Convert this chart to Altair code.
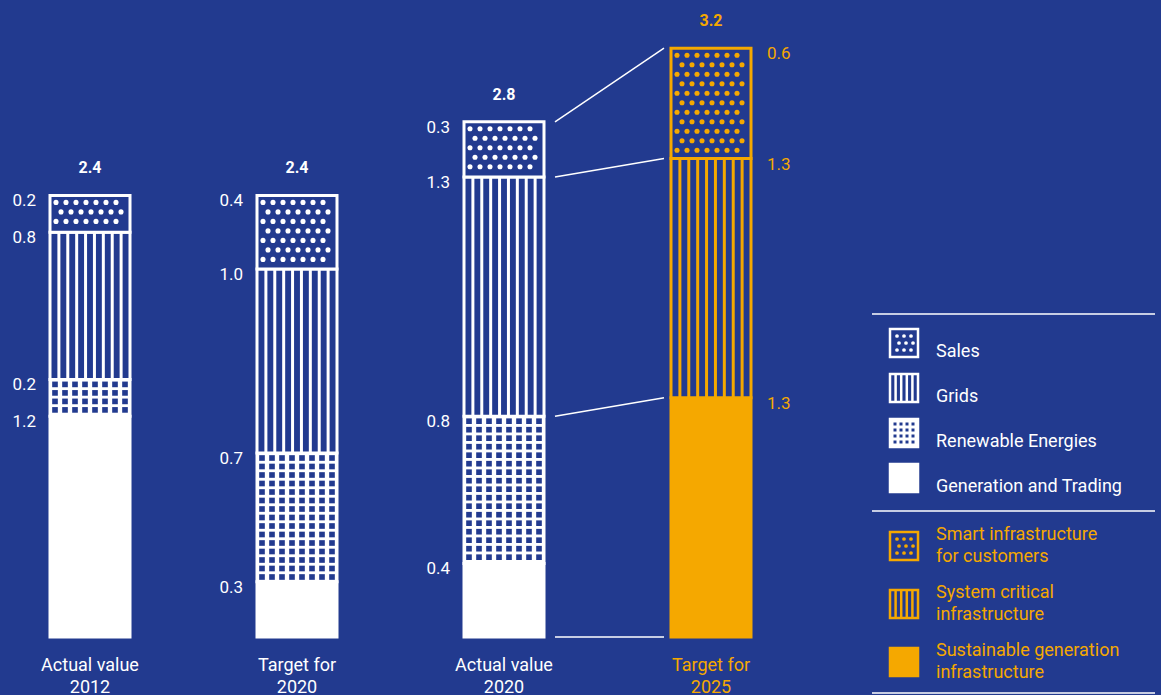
import altair as alt
import pandas as pd
import numpy as np

# ---------------- data ----------------
bar_labels = ["Actual value\n2012", "Target for\n2020", "Actual value\n2020", "Target for\n2025"]
bar_groups = ["white", "white", "white", "orange"]
totals = [2.4, 2.4, 2.8, 3.2]

# white bars (2012 actual, 2020 target, 2020 actual), bottom to top
generation_trading = [1.2, 0.3, 0.4]
renewable_energies = [0.2, 0.7, 0.8]
grids = [0.8, 1.0, 1.3]
sales = [0.2, 0.4, 0.3]

# orange bar (2025 target), bottom to top
sustainable_generation = [1.3]
system_critical = [1.3]
smart_infrastructure = [0.6]

legend_labels = ["Sales", "Grids", "Renewable Energies", "Generation and Trading",
                 "Smart infrastructure\nfor customers", "System critical\ninfrastructure",
                 "Sustainable generation\ninfrastructure"]
legend_kinds = ["dots", "stripes", "mesh", "solid", "dots", "stripes", "solid"]
legend_groups = ["white"] * 4 + ["orange"] * 3

# ---------------- style / layout ----------------
BG = "#223a8f"
WHITE = "#ffffff"
ORANGE = "#f5a800"
FONT = "Roboto"
TW = 400
MAIN_W, LEG_W, H = 860, 301, 695
PX_PER_UNIT = 184.0
BAR_STEP = 207.0
FIRST_CENTER = 90.0
BASE_PX = 637.0
HALF = 40.0
ux = 1.0 / BAR_STEP
uy = 1.0 / PX_PER_UNIT

X0 = -FIRST_CENTER / BAR_STEP
X1 = (MAIN_W - FIRST_CENTER) / BAR_STEP
Y0 = -(H - BASE_PX) / PX_PER_UNIT
Y1 = BASE_PX / PX_PER_UNIT

white_series = [("Generation and Trading", "solid", generation_trading),
                ("Renewable Energies", "mesh", renewable_energies),
                ("Grids", "stripes", grids),
                ("Sales", "dots", sales)]
orange_series = [("Sustainable generation infrastructure", "solid", sustainable_generation),
                 ("System critical infrastructure", "stripes", system_critical),
                 ("Smart infrastructure for customers", "dots", smart_infrastructure)]

seg_rows = []
for bi in range(4):
    grp = bar_groups[bi]
    series = orange_series if grp == "orange" else white_series
    idx = 0 if grp == "orange" else bi
    cum = 0.0
    for name, kind, vals in series:
        v = vals[idx]
        seg_rows.append(dict(bar=bi, name=name, kind=kind, group=grp,
                             start=round(cum, 3), end=round(cum + v, 3), value=v,
                             x=bi - HALF * ux, x2=bi + HALF * ux,
                             fillkey=("bg" if kind in ("dots", "stripes") else grp)))
        cum += v
segs = pd.DataFrame(seg_rows)

# pattern helpers derived from segments
stripe_rows, dot_rows, mesh_rows = [], [], []
for r in seg_rows:
    if r["kind"] == "stripes":
        n = 8
        for k in range(1, n + 1):
            off = -HALF + k * (2 * HALF / (n + 1))
            stripe_rows.append(dict(group=r["group"], x=r["bar"] + off * ux, y=r["start"], y2=r["end"]))
    elif r["kind"] == "dots":
        yy = r["end"] - 7 * uy
        row = 0
        while yy > r["start"] + 4 * uy:
            shift = 0 if row % 2 == 0 else 5
            for c in range(8):
                off = -34 + shift + c * 10
                if off <= 34:
                    dot_rows.append(dict(group=r["group"], x=r["bar"] + off * ux, y=yy))
            yy -= 9.5 * uy
            row += 1
    elif r["kind"] == "mesh":
        yy = r["end"] - 5 * uy
        while yy > r["start"] + 3 * uy:
            for c in range(8):
                off = -35 + c * 10
                mesh_rows.append(dict(x=r["bar"] + off * ux, y=yy))
            yy -= 8.5 * uy
stripes_df = pd.DataFrame(stripe_rows)
dots_df = pd.DataFrame(dot_rows)
mesh_df = pd.DataFrame(mesh_rows)

# value labels
lab_rows = []
for r in seg_rows:
    if r["group"] == "orange":
        lab_rows.append(dict(group="orange", side="right", x=r["bar"] + (HALF + 16) * ux, y=r["end"], text=f"{r['value']:.1f}"))
    else:
        lab_rows.append(dict(group="white", side="left", x=r["bar"] - (HALF + 14) * ux, y=r["end"], text=f"{r['value']:.1f}"))
labs = pd.DataFrame(lab_rows)

tot_df = pd.DataFrame(dict(bar=list(range(4)), total=totals, group=bar_groups,
                           text=[f"{t:.1f}" for t in totals], label=bar_labels))

# connectors between the 2020 actual bar and the 2025 target bar
b3 = [r for r in seg_rows if r["bar"] == 2]
b4 = [r for r in seg_rows if r["bar"] == 3]
left_vals = [b3[-1]["end"], b3[-1]["start"], b3[-2]["start"], 0.0]
right_vals = [b4[-1]["end"], b4[-1]["start"], b4[-2]["start"], 0.0]
conn = pd.DataFrame(dict(x=[2 + (HALF + 11) * ux] * 4, x2=[3 - (HALF + 7) * ux] * 4,
                         y=left_vals, y2=right_vals))

xsc = alt.Scale(domain=[X0, X1], nice=False, zero=False)
ysc = alt.Scale(domain=[Y0, Y1], nice=False, zero=False)
gcol = alt.Scale(domain=["white", "orange"], range=[WHITE, ORANGE])
fcol = alt.Scale(domain=["white", "orange", "bg"], range=[WHITE, ORANGE, BG])

rects = alt.Chart(segs).mark_rect(strokeWidth=3).encode(
    x=alt.X("x:Q", scale=xsc, axis=None), x2="x2:Q",
    y=alt.Y("start:Q", scale=ysc, axis=None), y2="end:Q",
    fill=alt.Fill("fillkey:N", scale=fcol, legend=None),
    stroke=alt.Stroke("group:N", scale=gcol, legend=None),
)
stripes = alt.Chart(stripes_df).mark_rule(strokeWidth=3).encode(
    x=alt.X("x:Q", scale=xsc, axis=None),
    y=alt.Y("y:Q", scale=ysc, axis=None), y2="y2:Q",
    color=alt.Color("group:N", scale=gcol, legend=None),
)
dots = alt.Chart(dots_df).mark_circle(size=26, opacity=1).encode(
    x=alt.X("x:Q", scale=xsc, axis=None),
    y=alt.Y("y:Q", scale=ysc, axis=None),
    color=alt.Color("group:N", scale=gcol, legend=None),
)
mesh = alt.Chart(mesh_df).mark_square(size=32, opacity=1, color=BG).encode(
    x=alt.X("x:Q", scale=xsc, axis=None),
    y=alt.Y("y:Q", scale=ysc, axis=None),
)
connectors = alt.Chart(conn).mark_rule(strokeWidth=1.5, color=WHITE).encode(
    x=alt.X("x:Q", scale=xsc, axis=None), x2="x2:Q",
    y=alt.Y("y:Q", scale=ysc, axis=None), y2="y2:Q",
)
lab_left = alt.Chart(labs).transform_filter("datum.side == 'left'").mark_text(
    align="right", baseline="middle", dy=6, font=FONT, fontSize=17, fontWeight=TW).encode(
    x=alt.X("x:Q", scale=xsc, axis=None), y=alt.Y("y:Q", scale=ysc, axis=None),
    text="text:N", color=alt.Color("group:N", scale=gcol, legend=None))
lab_right = alt.Chart(labs).transform_filter("datum.side == 'right'").mark_text(
    align="left", baseline="middle", dy=6, font=FONT, fontSize=17, fontWeight=TW).encode(
    x=alt.X("x:Q", scale=xsc, axis=None), y=alt.Y("y:Q", scale=ysc, axis=None),
    text="text:N", color=alt.Color("group:N", scale=gcol, legend=None))
tot_text = alt.Chart(tot_df).mark_text(
    align="center", baseline="middle", dy=-27, font=FONT, fontSize=16, fontWeight="bold").encode(
    x=alt.X("bar:Q", scale=xsc, axis=None), y=alt.Y("total:Q", scale=ysc, axis=None),
    text="text:N", color=alt.Color("group:N", scale=gcol, legend=None))
cat_text = alt.Chart(tot_df).transform_calculate(zero="0").mark_text(
    align="center", baseline="top", dy=20, lineHeight=22, lineBreak="\n", font=FONT, fontSize=18,
    fontWeight=TW).encode(
    x=alt.X("bar:Q", scale=xsc, axis=None), y=alt.Y("zero:Q", scale=ysc, axis=None),
    text="label:N", color=alt.Color("group:N", scale=gcol, legend=None))

main = alt.layer(rects, stripes, dots, mesh, connectors, lab_left, lab_right, tot_text, cat_text).properties(
    width=MAIN_W, height=H)

# ---------------- legend (custom) ----------------
ICON_X0, ICON_X1, TEXT_X = 30, 58, 76
leg_rows, leg_pat = [], []
wi = oi = 0
for lbl, kind, grp in zip(legend_labels, legend_kinds, legend_groups):
    if grp == "white":
        ty = 352 + 45 * wi
        iy = ty - 9
        wi += 1
    else:
        iy = 546 + 58 * oi
        ty = iy - 11
        oi += 1
    leg_rows.append(dict(label=lbl, kind=kind, group=grp, ty=ty, y0=iy - 14, y1=iy + 14,
                         x0=ICON_X0, x1=ICON_X1, tx=TEXT_X,
                         fillkey=("bg" if kind in ("dots", "stripes") else grp)))
    if kind == "stripes":
        for k in range(1, 5):
            leg_pat.append(dict(shape="stripe", group=grp, x=ICON_X0 + k * 5.6, y=iy - 13, y2=iy + 13))
    elif kind == "dots":
        for rr in range(3):
            for cc in range(3):
                leg_pat.append(dict(shape="dot", group=grp, x=ICON_X0 + 7 + cc * 7 + (rr % 2) * 2,
                                    y=iy - 7 + rr * 7, y2=iy))
    elif kind == "mesh":
        for rr in range(4):
            for cc in range(4):
                leg_pat.append(dict(shape="hole", group=grp, x=ICON_X0 + 5 + cc * 6,
                                    y=iy - 9 + rr * 6, y2=iy))
leg = pd.DataFrame(leg_rows)
legp = pd.DataFrame(leg_pat)
sep = pd.DataFrame(dict(y=[314, 511, 693], x=[12] * 3, x2=[295] * 3))

idx_ = alt.Scale(domain=[0, LEG_W], range=[0, LEG_W], nice=False, zero=True)
idy_ = alt.Scale(domain=[0, H], range=[0, H], nice=False, zero=True)

leg_sep = alt.Chart(sep).mark_rule(color=WHITE, strokeWidth=1.5).encode(
    x=alt.X("x:Q", scale=idx_, axis=None), x2="x2:Q", y=alt.Y("y:Q", scale=idy_, axis=None))
leg_icon = alt.Chart(leg).mark_rect(strokeWidth=2.5).encode(
    x=alt.X("x0:Q", scale=idx_, axis=None), x2="x1:Q",
    y=alt.Y("y0:Q", scale=idy_, axis=None), y2="y1:Q",
    fill=alt.Fill("fillkey:N", scale=fcol, legend=None),
    stroke=alt.Stroke("group:N", scale=gcol, legend=None))
leg_stripes = alt.Chart(legp).transform_filter("datum.shape == 'stripe'").mark_rule(strokeWidth=2.5).encode(
    x=alt.X("x:Q", scale=idx_, axis=None), y=alt.Y("y:Q", scale=idy_, axis=None), y2="y2:Q",
    color=alt.Color("group:N", scale=gcol, legend=None))
leg_dots = alt.Chart(legp).transform_filter("datum.shape == 'dot'").mark_circle(size=14, opacity=1).encode(
    x=alt.X("x:Q", scale=idx_, axis=None), y=alt.Y("y:Q", scale=idy_, axis=None),
    color=alt.Color("group:N", scale=gcol, legend=None))
leg_holes = alt.Chart(legp).transform_filter("datum.shape == 'hole'").mark_square(size=9, opacity=1, color=BG).encode(
    x=alt.X("x:Q", scale=idx_, axis=None), y=alt.Y("y:Q", scale=idy_, axis=None))
leg_text = alt.Chart(leg).mark_text(align="left", baseline="middle", lineHeight=22, lineBreak="\n",
                                    font=FONT, fontSize=18, fontWeight=TW).encode(
    x=alt.X("tx:Q", scale=idx_, axis=None), y=alt.Y("ty:Q", scale=idy_, axis=None),
    text="label:N", color=alt.Color("group:N", scale=gcol, legend=None))

legend_chart = alt.layer(leg_sep, leg_icon, leg_stripes, leg_dots, leg_holes, leg_text).properties(
    width=LEG_W, height=H)

chart = alt.hconcat(main, legend_chart, spacing=0).resolve_scale(
    x="independent", y="independent", color="shared", fill="shared", stroke="shared"
).properties(padding=0, background=BG).configure_view(stroke=None).configure_concat(spacing=0)

chart.save("out.html", embed_options={"renderer": "svg", "actions": False})
